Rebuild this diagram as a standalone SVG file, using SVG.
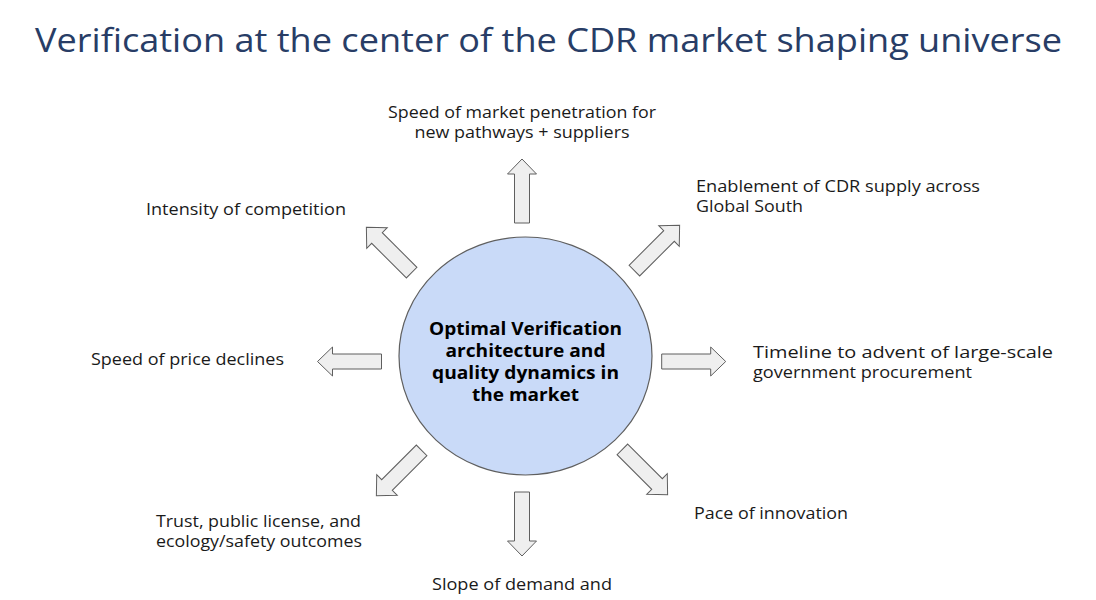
<svg xmlns="http://www.w3.org/2000/svg" width="1096" height="600" viewBox="0 0 1096 600">
<style>
.t{font-family:"Open Sans","Noto Sans","Liberation Sans",sans-serif;font-size:16px;fill:#1a1a1a}
.c{font-family:"Open Sans","Noto Sans","Liberation Sans",sans-serif;font-size:17px;font-weight:bold;fill:#000;text-anchor:middle}
.title{font-family:"Open Sans","Noto Sans","Liberation Sans",sans-serif;font-size:33px;fill:#283d66}
.arr{fill:#efefef;stroke:#5f5f5f;stroke-width:1}
</style>
<defs>
<path id="ar" d="M-32,-7.5 L17,-7.5 L17,-14.5 L32,0 L17,14.5 L17,7.5 L-32,7.5 Z"/>
</defs>
<rect width="1096" height="600" fill="#fff"/>
<text class="title" x="35" y="52" textLength="1027" lengthAdjust="spacingAndGlyphs">Verification at the center of the CDR market shaping universe</text>
<g id="connectors">
<use href="#ar" class="arr" transform="translate(522,191) rotate(-90)"/>
<use href="#ar" class="arr" transform="translate(522,524) rotate(90)"/>
<use href="#ar" class="arr" transform="translate(349.5,361.5) rotate(180)"/>
<use href="#ar" class="arr" transform="translate(693.7,361.5)"/>
<use href="#ar" class="arr" transform="translate(389,250) rotate(-135)"/>
<use href="#ar" class="arr" transform="translate(657,248) rotate(-45)"/>
<use href="#ar" class="arr" transform="translate(399,473) rotate(135)"/>
<use href="#ar" class="arr" transform="translate(645,472) rotate(45)"/>
</g>
<g id="center">
<ellipse cx="525.5" cy="356" rx="126.5" ry="119" fill="#c9daf8" stroke="#5f5f5f" stroke-width="1.2"/>
<text class="c" x="525.5" y="335" textLength="193" lengthAdjust="spacingAndGlyphs">Optimal Verification</text>
<text class="c" x="525.5" y="357" textLength="160" lengthAdjust="spacingAndGlyphs">architecture and</text>
<text class="c" x="525.5" y="379" textLength="187" lengthAdjust="spacingAndGlyphs">quality dynamics in</text>
<text class="c" x="525.5" y="401" textLength="107" lengthAdjust="spacingAndGlyphs">the market</text>
</g>
<g id="n-top">
<text class="t" x="522" y="118" text-anchor="middle" textLength="268" lengthAdjust="spacingAndGlyphs">Speed of market penetration for</text>
<text class="t" x="522" y="138" text-anchor="middle" textLength="215" lengthAdjust="spacingAndGlyphs">new pathways + suppliers</text>
</g>
<g id="n-upleft">
<text class="t" x="146" y="215" textLength="200" lengthAdjust="spacingAndGlyphs">Intensity of competition</text>
</g>
<g id="n-upright">
<text class="t" x="696" y="192" textLength="284" lengthAdjust="spacingAndGlyphs">Enablement of CDR supply across</text>
<text class="t" x="696" y="212" textLength="107" lengthAdjust="spacingAndGlyphs">Global South</text>
</g>
<g id="n-left">
<text class="t" x="91" y="365" textLength="193" lengthAdjust="spacingAndGlyphs">Speed of price declines</text>
</g>
<g id="n-right">
<text class="t" x="753" y="358" textLength="300" lengthAdjust="spacingAndGlyphs">Timeline to advent of large-scale</text>
<text class="t" x="753" y="378" textLength="219" lengthAdjust="spacingAndGlyphs">government procurement</text>
</g>
<g id="n-downleft">
<text class="t" x="156" y="527" textLength="205" lengthAdjust="spacingAndGlyphs">Trust, public license, and</text>
<text class="t" x="156" y="547" textLength="206" lengthAdjust="spacingAndGlyphs">ecology/safety outcomes</text>
</g>
<g id="n-downright">
<text class="t" x="694" y="519" textLength="154" lengthAdjust="spacingAndGlyphs">Pace of innovation</text>
</g>
<g id="n-bottom">
<text class="t" x="522" y="590" text-anchor="middle" textLength="180" lengthAdjust="spacingAndGlyphs">Slope of demand and</text>
</g>
</svg>
